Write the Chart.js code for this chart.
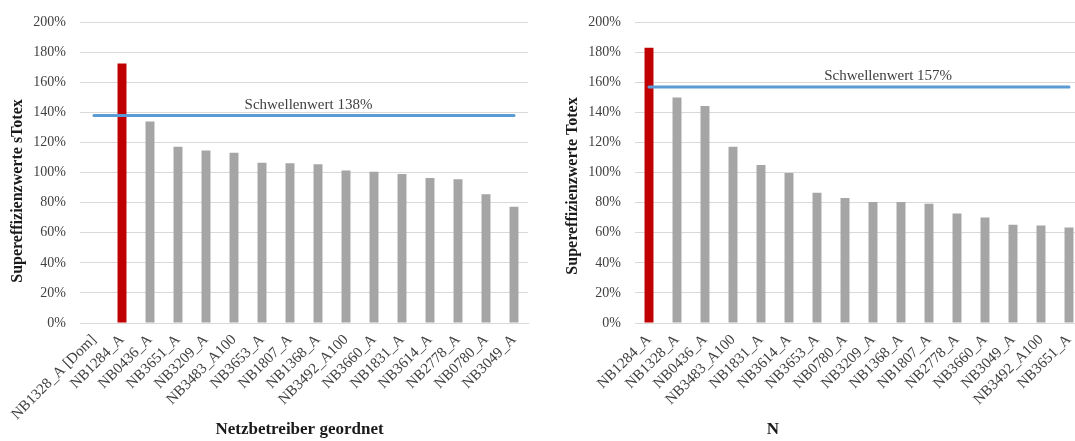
<!DOCTYPE html>
<html lang="de">
<head>
<meta charset="UTF-8">
<title>Supereffizienzwerte sTotex / Totex</title>
<script src="https://cdn.jsdelivr.net/npm/chart.js"></script>
<style>
  html, body { margin: 0; padding: 0; background: #fff; overflow: hidden; }
  .wrap { position: relative; width: 1075px; height: 441px; overflow: hidden; }
  .panel { position: absolute; top: 0; width: 555px; height: 441px; }
</style>
</head>
<body>
<div class="wrap">
  <div class="panel" style="left:0"><canvas id="chartSTotex"></canvas></div>
  <div class="panel" style="left:555px"><canvas id="chartTotex"></canvas></div>
</div>
<script>
// sTotex, sortiert
const sTotexLabels = ['NB1328_A [Dom]', 'NB1284_A', 'NB0436_A', 'NB3651_A', 'NB3209_A', 'NB3483_A100',
  'NB3653_A', 'NB1807_A', 'NB1368_A', 'NB3492_A100', 'NB3660_A', 'NB1831_A', 'NB3614_A',
  'NB2778_A', 'NB0780_A', 'NB3049_A'];
const sTotexValues = [null, 172.7, 134.0, 117.3, 114.7, 113.2, 106.7, 106.3, 105.6, 101.5,
  100.6, 99.1, 96.5, 95.6, 85.7, 77.3];
const sTotexThreshold = 138;

// Totex, sortiert
const totexLabels = ['NB1284_A', 'NB1328_A', 'NB0436_A', 'NB3483_A100', 'NB1831_A', 'NB3614_A',
  'NB3653_A', 'NB0780_A', 'NB3209_A', 'NB1368_A', 'NB1807_A', 'NB2778_A', 'NB3660_A',
  'NB3049_A', 'NB3492_A100', 'NB3651_A'];
const totexValues = [183.1, 150.0, 144.4, 117.3, 105.2, 99.8, 86.6, 83.1, 80.5, 80.5,
  79.3, 72.9, 70.2, 65.4, 64.9, 63.6];
const totexThreshold = 157;

const highlighted = ['NB1284_A'];
const yTicks = [0, 20, 40, 60, 80, 100, 120, 140, 160, 180, 200];

const RED = '#C00000';
const GREY = '#A5A5A5';
const BLUE = '#5B9BD5';
const GRID = '#D9D9D9';
const TEXT = '#404040';
const FONT = '"Liberation Serif", "Times New Roman", serif';

// threshold caption and axis titles
const annotate = {
  id: 'annotate',
  afterDraw(chart, args, o) {
    const { ctx, chartArea } = chart;
    const lineY = chart.getDatasetMeta(1).data[0].y;
    ctx.save();
    ctx.fillStyle = TEXT;
    ctx.textAlign = 'center';
    ctx.textBaseline = 'middle';
    ctx.font = '15px ' + FONT;
    ctx.fillText(o.thresholdText, chartArea.left + chartArea.width * o.thresholdPos, lineY - 11);

    ctx.fillStyle = '#1a1a1a';
    ctx.font = 'bold 17px ' + FONT;
    ctx.fillText(o.xTitle, chartArea.left + chartArea.width * o.xTitlePos, 430);

    ctx.font = 'bold 16px ' + FONT;
    ctx.translate(18, o.yTitleY);
    ctx.rotate(-Math.PI / 2);
    ctx.fillText(o.yTitle, 0, 0);
    ctx.restore();
  }
};

function makeChart(id, labels, values, threshold, texts) {
  return new Chart(document.getElementById(id), {
    type: 'bar',
    data: {
      labels: labels,
      datasets: [{
        type: 'bar',
        data: values,
        backgroundColor: labels.map(l => highlighted.includes(l) ? RED : GREY),
        barPercentage: 0.32,
        categoryPercentage: 1,
        order: 1
      }, {
        type: 'line',
        data: labels.map(() => threshold),
        borderColor: BLUE,
        borderWidth: 3,
        borderCapStyle: 'round',
        pointRadius: 0,
        fill: false,
        order: 0
      }]
    },
    options: {
      responsive: true,
      maintainAspectRatio: false,
      animation: false,
      layout: { padding: { top: 14, right: 27, left: 0, bottom: 0 } },
      plugins: {
        legend: { display: false },
        tooltip: { enabled: false },
        annotate: texts
      },
      scales: {
        x: {
          grid: { display: false, drawTicks: false },
          border: { display: true, color: GRID, width: 1 },
          ticks: {
            minRotation: 45, maxRotation: 45, autoSkip: false, padding: 8,
            color: TEXT, font: { family: FONT, size: 15 }
          },
          afterFit(s) { s.height = 118; }
        },
        y: {
          min: 0, max: 200,
          afterBuildTicks(s) { s.ticks = yTicks.map(v => ({ value: v })); },
          grid: { color: GRID, lineWidth: 1, drawTicks: false },
          border: { display: false },
          ticks: {
            padding: 14, color: TEXT, font: { family: FONT, size: 14 },
            callback: v => v + '%'
          },
          afterFit(s) { s.width = 80; }
        }
      }
    },
    plugins: [annotate]
  });
}

makeChart('chartSTotex', sTotexLabels, sTotexValues, sTotexThreshold, {
  thresholdText: 'Schwellenwert ' + sTotexThreshold + '%',
  thresholdPos: 0.51,
  xTitle: 'Netzbetreiber geordnet',
  xTitlePos: 0.49,
  yTitle: 'Supereffizienzwerte sTotex',
  yTitleY: 191
});

makeChart('chartTotex', totexLabels, totexValues, totexThreshold, {
  thresholdText: 'Schwellenwert ' + totexThreshold + '%',
  thresholdPos: 0.565,
  xTitle: 'N',
  xTitlePos: 0.308,
  yTitle: 'Supereffizienzwerte Totex',
  yTitleY: 186
});
</script>
</body>
</html>
